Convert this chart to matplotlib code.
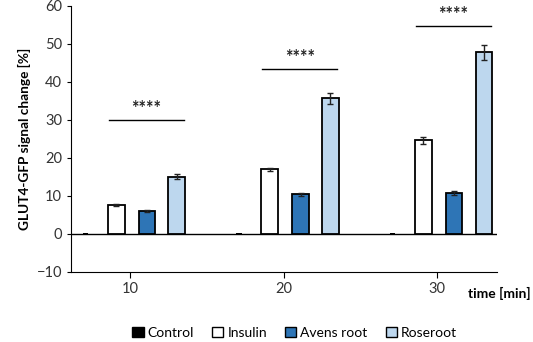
import numpy as np
import matplotlib
matplotlib.use("Agg")
import matplotlib.pyplot as plt
from matplotlib.patches import Patch

plt.rcParams["font.family"] = ["Lato", "DejaVu Sans"]

# 数据
times = [10, 20, 30]
groups = ["Control", "Insulin", "Avens root", "Roseroot"]
control = [0.0, 0.0, 0.0]
control_err = [0.2, 0.2, 0.2]
insulin = [7.6, 17.0, 24.7]
insulin_err = [0.3, 0.4, 0.9]
avens = [6.05, 10.4, 10.7]
avens_err = [0.2, 0.3, 0.5]
roseroot = [15.1, 35.7, 47.8]
roseroot_err = [0.7, 1.5, 2.0]
sig_y = [30.0, 43.3, 54.8]
sig_text = ["****", "****", "****"]

colors = ["black", "white", "#2E75B6", "#BDD7EE"]
offsets = [-2.9, -0.9, 1.1, 3.05]
width = 1.1

fig = plt.figure(figsize=(5.33, 3.42), dpi=100)
ax = fig.add_axes([0.1332, 0.2047, 0.7993, 0.7778])

x = np.array(times, dtype=float)
values = [control, insulin, avens, roseroot]
errs = [control_err, insulin_err, avens_err, roseroot_err]

ax.axhline(0, color="black", lw=1.0, zorder=1)

for i in range(4):
    if i == 0:
        # 对照组几乎为 0，只显示一个小黑块
        ax.bar(x + offsets[i], np.array(errs[i]) * 2, 0.35,
               bottom=np.array(values[i]) - np.array(errs[i]),
               color="black", zorder=3)
    else:
        ax.bar(x + offsets[i], values[i], width, color=colors[i],
               edgecolor="black", linewidth=1.3, zorder=2)
        ax.errorbar(x + offsets[i], values[i], yerr=errs[i], fmt="none",
                    ecolor="#222222", elinewidth=1.0, capsize=2.2, capthick=1.0, zorder=3)

# 显著性标记
for t, y, s in zip(times, sig_y, sig_text):
    ax.plot([t - 1.4, t + 3.5], [y, y], color="black", lw=1.0)
    ax.text(t + 1.05, y + 0.8, s, ha="center", va="bottom", fontsize=13,
            fontweight="bold", color="#222222")

ax.set_xlim(6.15, 33.9)
ax.set_ylim(-10, 60)
ax.set_yticks(np.arange(-10, 61, 10))
ax.set_xticks(times)
ax.spines["top"].set_visible(False)
ax.spines["right"].set_visible(False)
ax.tick_params(axis="y", direction="out", length=3, labelsize=10.5, labelcolor="#333333")
ax.tick_params(axis="x", direction="out", length=4, labelsize=10.5, labelcolor="#333333", pad=3)
ax.set_ylabel("GLUT4-GFP signal change [%]", fontsize=9.8, fontweight="bold")

fig.text(0.995, 0.143, "time [min]", ha="right", va="center", fontsize=10, fontweight="bold")

handles = [Patch(facecolor=c, edgecolor="black", linewidth=1.0) for c in colors]
fig.legend(handles, groups, loc="center", bbox_to_anchor=(0.553, 0.027), ncol=4,
           frameon=False, fontsize=10, handlelength=0.8, handleheight=0.8,
           handletextpad=0.3, columnspacing=1.3)

plt.savefig("out.png", dpi=100)
